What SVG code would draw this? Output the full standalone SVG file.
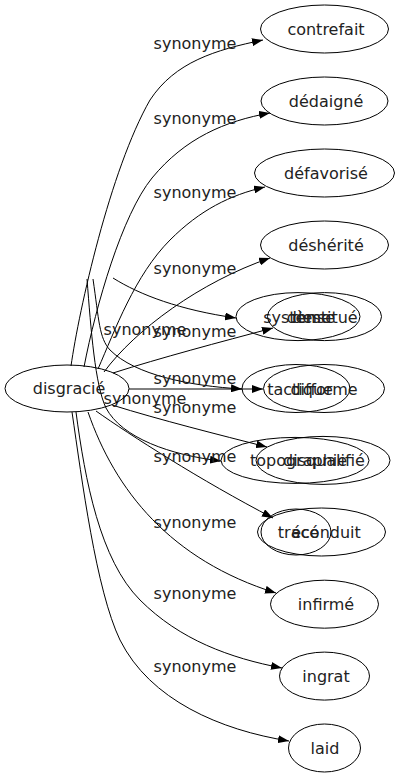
<svg xmlns="http://www.w3.org/2000/svg" width="400" height="779" viewBox="0 0 400 779">
<style>
  rect.bg{fill:#fff}
  ellipse{fill:none;stroke:#000;stroke-width:1}
  text{font-family:"DejaVu Sans",sans-serif;font-size:16px;fill:#222;text-anchor:middle}
  #edges path{fill:none;stroke:#000;stroke-width:1;marker-end:url(#arr)}
</style>
<defs>
  <marker id="arr" viewBox="0 0 11 8" refX="11" refY="4" markerWidth="11" markerHeight="8" markerUnits="userSpaceOnUse" orient="auto">
    <path d="M0,0 L11,4 L0,8 z" fill="#000"/>
  </marker>
</defs>
<rect class="bg" x="0" y="0" width="400" height="779"/>
<g id="edges">
  <path d="M71,366 C79,310 110,170 150,100 C175,62 215,50 263,40"/>
  <path d="M84,367 C96,305 122,215 152,178 C185,138 225,121 270,113"/>
  <path d="M98,369 C115,330 135,275 170,240 C200,210 230,195 265,187"/>
  <path d="M104,372 C135,330 200,282 270,258"/>
  <path d="M113,373 C160,358 220,342 273,328"/>
  <path d="M129,389 L263,389"/>
  <path d="M112,405 C160,420 220,435 267,447"/>
  <path d="M96,411 C130,435 200,480 273,518"/>
  <path d="M88,412 C115,490 170,560 276,593"/>
  <path d="M76,412 C85,480 100,560 140,600 C180,640 230,658 282,668"/>
  <path d="M72,412 C82,480 96,590 120,640 C150,700 220,730 289,741"/>
  <path d="M113,278 C140,295 180,310 236,318"/>
  <path d="M93,279 C99,320 99,338 110,350 C135,375 190,386 242,389"/>
  <path d="M87,279 C91,330 95,385 106,408 C122,438 170,455 221,461"/>
  <g id="edge-labels">
    <text x="195" y="49">synonyme</text>
    <text x="195" y="124">synonyme</text>
    <text x="195" y="198">synonyme</text>
    <text x="195" y="274">synonyme</text>
    <text x="145" y="335">synonyme</text>
    <text x="195" y="337">synonyme</text>
    <text x="195" y="384">synonyme</text>
    <text x="145" y="404">synonyme</text>
    <text x="195" y="413">synonyme</text>
    <text x="195" y="462">synonyme</text>
    <text x="195" y="528">synonyme</text>
    <text x="195" y="599">synonyme</text>
    <text x="195" y="672">synonyme</text>
  </g>
</g>
<g id="disgracie"><ellipse cx="67" cy="388.5" rx="62" ry="23.5"/><text x="69" y="394">disgracié</text></g>
<g id="contrefait"><ellipse cx="324.5" cy="29" rx="64" ry="24"/><text x="326" y="35">contrefait</text></g>
<g id="dedaigne"><ellipse cx="324.5" cy="101" rx="63.5" ry="24"/><text x="326" y="107">dédaigné</text></g>
<g id="defavorise"><ellipse cx="324.5" cy="173" rx="70" ry="24"/><text x="326" y="179">défavorisé</text></g>
<g id="desherite"><ellipse cx="324.5" cy="245" rx="64" ry="24"/><text x="326" y="251">déshérité</text></g>
<g id="systeme"><ellipse cx="298" cy="316.6" rx="62" ry="24"/><text x="297" y="322.6">système</text></g>
<g id="dense"><text x="311" y="322.6">dense</text></g>
<g id="destitue"><ellipse cx="324.5" cy="316.6" rx="57" ry="24"/><text x="325" y="322.6">destitué</text></g>
<g id="tactique"><ellipse cx="296" cy="388.5" rx="54" ry="24"/><text x="300" y="394.5">tactique</text></g>
<g id="difforme"><ellipse cx="324" cy="388.5" rx="60.5" ry="24"/><text x="324" y="394.5">difforme</text></g>
<g id="topographie"><ellipse cx="295" cy="460.4" rx="74" ry="23"/><text x="298.5" y="466.4">topographie</text></g>
<g id="disqualifie"><ellipse cx="323" cy="460.4" rx="67" ry="24"/><text x="324" y="466.4">disqualifié</text></g>
<g id="trace"><ellipse cx="296" cy="532" rx="35" ry="23"/><text x="298.5" y="538">tracé</text></g>
<g id="econduit"><ellipse cx="321.5" cy="532" rx="64" ry="24"/><text x="326" y="538">éconduit</text></g>
<g id="infirme"><ellipse cx="324.5" cy="604.2" rx="54" ry="24"/><text x="326" y="610.2">infirmé</text></g>
<g id="ingrat"><ellipse cx="324.5" cy="676.1" rx="45" ry="24"/><text x="326" y="682.1">ingrat</text></g>
<g id="laid"><ellipse cx="324.5" cy="748" rx="36" ry="24"/><text x="325" y="754">laid</text></g>
</svg>
